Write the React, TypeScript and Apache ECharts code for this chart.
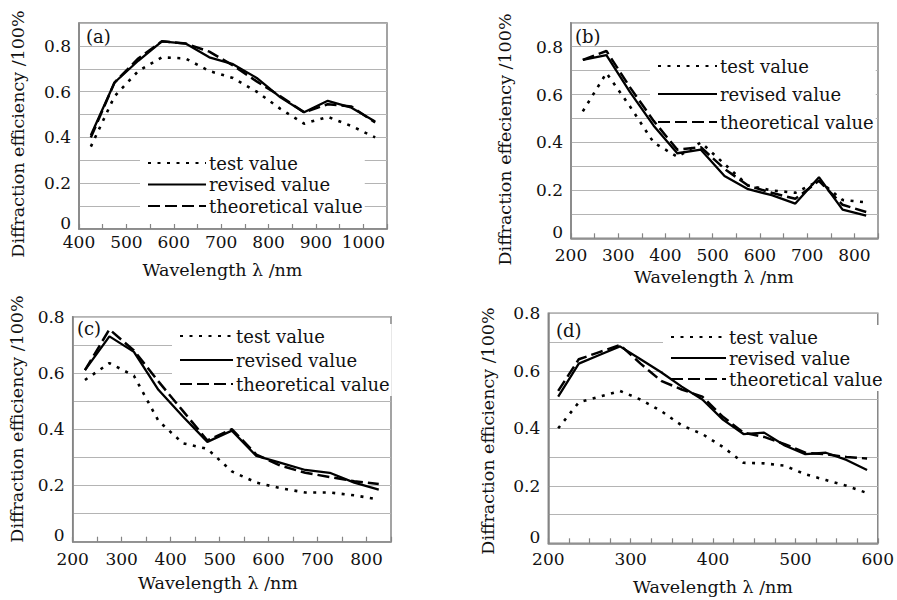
import React, { useEffect, useRef } from "react";
import * as echarts from "echarts";

// ---- data ----
const xA = [425, 475, 525, 575, 625, 675, 725, 775, 825, 875, 925, 975, 1025];
const aTest = [0.36, 0.58, 0.69, 0.75, 0.745, 0.69, 0.66, 0.6, 0.525, 0.46, 0.49, 0.45, 0.4];
const aRevised = [0.41, 0.64, 0.735, 0.82, 0.81, 0.75, 0.72, 0.66, 0.575, 0.51, 0.56, 0.53, 0.47];
const aTheory = [0.4, 0.64, 0.745, 0.82, 0.81, 0.775, 0.715, 0.645, 0.58, 0.51, 0.545, 0.535, 0.465];

const xB = [225, 275, 325, 375, 425, 475, 525, 575, 625, 675, 725, 775, 825];
const bTest = [0.53, 0.69, 0.55, 0.4, 0.34, 0.4, 0.31, 0.22, 0.2, 0.19, 0.24, 0.16, 0.15];
const bRevised = [0.745, 0.765, 0.61, 0.47, 0.355, 0.37, 0.26, 0.205, 0.18, 0.145, 0.255, 0.12, 0.095];
const bTheory = [0.745, 0.782, 0.63, 0.49, 0.37, 0.38, 0.29, 0.22, 0.19, 0.165, 0.24, 0.14, 0.11];

const xC = [225, 275, 325, 375, 425, 475, 525, 575, 625, 675, 725, 775, 825];
const cTest = [0.575, 0.635, 0.59, 0.43, 0.35, 0.33, 0.25, 0.21, 0.19, 0.175, 0.175, 0.165, 0.15];
const cRevised = [0.61, 0.73, 0.675, 0.54, 0.445, 0.355, 0.395, 0.305, 0.28, 0.255, 0.245, 0.21, 0.185];
const cTheory = [0.61, 0.755, 0.68, 0.57, 0.465, 0.36, 0.4, 0.31, 0.27, 0.245, 0.23, 0.215, 0.205];

const xD = [212, 237, 262, 287, 312, 337, 362, 387, 412, 437, 462, 487, 512, 537, 562, 587];
const dTest = [0.4, 0.49, 0.51, 0.53, 0.5, 0.46, 0.41, 0.38, 0.335, 0.28, 0.278, 0.27, 0.24, 0.22, 0.2, 0.175];
const dRevised = [0.51, 0.625, 0.655, 0.685, 0.64, 0.595, 0.545, 0.5, 0.43, 0.38, 0.385, 0.34, 0.31, 0.315, 0.29, 0.255];
const dTheory = [0.53, 0.64, 0.665, 0.69, 0.625, 0.565, 0.535, 0.51, 0.44, 0.385, 0.37, 0.345, 0.315, 0.31, 0.3, 0.295];

const seriesNames = ["test value", "revised value", "theoretical value"];
const panelLabels = ["(a)", "(b)", "(c)", "(d)"];
const yNames = [
  "Diffraction efficiency /100%",
  "Diffraction effeciency /100%",
  "Diffraction efficiency /100%",
  "Diffraction efficiency /100%",
];
const xName = "Wavelength \u03bb /nm";

const FONT = "'DejaVu Serif', 'Liberation Serif', serif";
const GRAY = "#858585";

export default function App() {
  const ref = useRef<HTMLDivElement>(null);
  useEffect(() => {
    if (!ref.current) return;
    const chart = echarts.init(ref.current, null, { renderer: "svg" });

    const panels = [
      { x: xA, s: [aTest, aRevised, aTheory], grid: { left: 79, top: 23, width: 308, height: 206 }, xmin: 400, xmax: 1050, xint: 50, ymax: 0.9, xMargin: 4,
        legend: { left: 140, top: 151, itemWidth: 58, itemGap: 3.5 },
        label: [86, 36], yName: [17.5, 134], xName: [222.5, 270] },
      { x: xB, s: [bTest, bRevised, bTheory], grid: { left: 571, top: 22.7, width: 307, height: 215.6 }, xmin: 200, xmax: 850, xint: 50, ymax: 0.9, xMargin: 8,
        legend: { left: 650, top: 54, itemWidth: 59, itemGap: 10 },
        label: [575, 36], yName: [505, 139.5], xName: [714, 277] },
      { x: xC, s: [cTest, cRevised, cTheory], grid: { left: 72.7, top: 316.7, width: 318.3, height: 225 }, xmin: 200, xmax: 850, xint: 50, ymax: 0.8, xMargin: 9,
        legend: { left: 172, top: 324, itemWidth: 53, itemGap: 6 },
        label: [77, 328], yName: [16.5, 419], xName: [218, 583] },
      { x: xD, s: [dTest, dRevised, dTheory], grid: { left: 548.3, top: 313.3, width: 330, height: 230 }, xmin: 200, xmax: 600, xint: 25, ymax: 0.8, xMargin: 7,
        legend: { left: 663, top: 325, itemWidth: 55, itemGap: 3 },
        label: [556, 330], yName: [487.5, 431], xName: [713, 586.5] },
    ];

    const lineStyles = [
      { color: "#000", width: 2.6, type: [3, 6.5] },
      { color: "#000", width: 2.3, type: "solid" },
      { color: "#000", width: 2.5, type: [12, 5] },
    ];

    const grids: any[] = [];
    const xAxes: any[] = [];
    const yAxes: any[] = [];
    const series: any[] = [];
    const legends: any[] = [];
    const graphics: any[] = [];

    panels.forEach((p, i) => {
      grids.push({ ...p.grid, show: true, borderColor: GRAY, borderWidth: 1.5, backgroundColor: "transparent", containLabel: false });
      xAxes.push({
        type: "value", gridIndex: i, min: p.xmin, max: p.xmax, interval: p.xint,
        axisLine: { show: true, lineStyle: { color: GRAY, width: 1.5 } },
        axisTick: { show: true, inside: true, length: 5, lineStyle: { color: GRAY, width: 1.2 } },
        splitLine: { show: false },
        axisLabel: {
          color: "#111", fontFamily: FONT, fontSize: 17, margin: p.xMargin,
          formatter: (v: number) => (Math.round(v) % 100 === 0 ? String(Math.round(v)) : ""),
        },
      });
      yAxes.push({
        type: "value", gridIndex: i, min: 0, max: p.ymax, interval: 0.1,
        axisLine: { show: true, lineStyle: { color: GRAY, width: 1.5 } },
        axisTick: { show: false },
        splitLine: { show: true, lineStyle: { color: "#b4b4b4", width: 1 } },
        axisLabel: {
          color: "#111", fontFamily: FONT, fontSize: 17, margin: 8,
          formatter: (v: number) => {
            const k = Math.round(v * 10);
            if (k % 2 !== 0) return "";
            return k === 0 ? "{z|0}" : (k / 10).toFixed(1);
          },
          rich: { z: { fontFamily: FONT, fontSize: 17, color: "#111", padding: [0, 0, 13, 0] } },
        },
      });
      p.s.forEach((vals, j) => {
        series.push({
          type: "line", name: seriesNames[j], xAxisIndex: i, yAxisIndex: i,
          data: p.x.map((xv, k) => [xv, vals[k]]),
          symbol: "none", showSymbol: false, silent: true,
          lineStyle: lineStyles[j], itemStyle: { color: "#000" },
          emphasis: { disabled: true }, z: 3 + j,
        });
      });
      legends.push({
        orient: "vertical", left: p.legend.left, top: p.legend.top,
        itemWidth: p.legend.itemWidth, itemHeight: 2, itemGap: p.legend.itemGap,
        padding: [3, 2, 3, 7], backgroundColor: "#fff",
        data: seriesNames, selectedMode: false,
        itemStyle: { opacity: 0 },
        textStyle: { fontFamily: FONT, fontSize: 18, color: "#111", padding: [0, 0, 0, -2] },
      });
      graphics.push({
        type: "text", x: p.label[0], y: p.label[1], z: 100,
        style: { text: panelLabels[i], fontFamily: FONT, fontSize: 18, fill: "#111", textAlign: "left", textVerticalAlign: "middle", align: "left", verticalAlign: "middle" },
      });
      graphics.push({
        type: "text", x: p.yName[0], y: p.yName[1], rotation: Math.PI / 2, z: 100,
        style: { text: yNames[i], fontFamily: FONT, fontSize: 17.5, fill: "#111", textAlign: "center", textVerticalAlign: "middle", align: "center", verticalAlign: "middle" },
      });
      graphics.push({
        type: "text", x: p.xName[0], y: p.xName[1], z: 100,
        style: { text: xName, fontFamily: FONT, fontSize: 17.5, fill: "#111", textAlign: "center", textVerticalAlign: "middle", align: "center", verticalAlign: "middle" },
      });
    });

    chart.setOption({
      animation: false,
      backgroundColor: "#fff",
      grid: grids,
      xAxis: xAxes,
      yAxis: yAxes,
      legend: legends,
      series,
      graphic: graphics,
    });
    return () => chart.dispose();
  }, []);
  return (
    <div
      ref={ref}
      style={{ position: "fixed", left: 0, top: 0, width: 897, height: 600, background: "#fff" }}
    />
  );
}
